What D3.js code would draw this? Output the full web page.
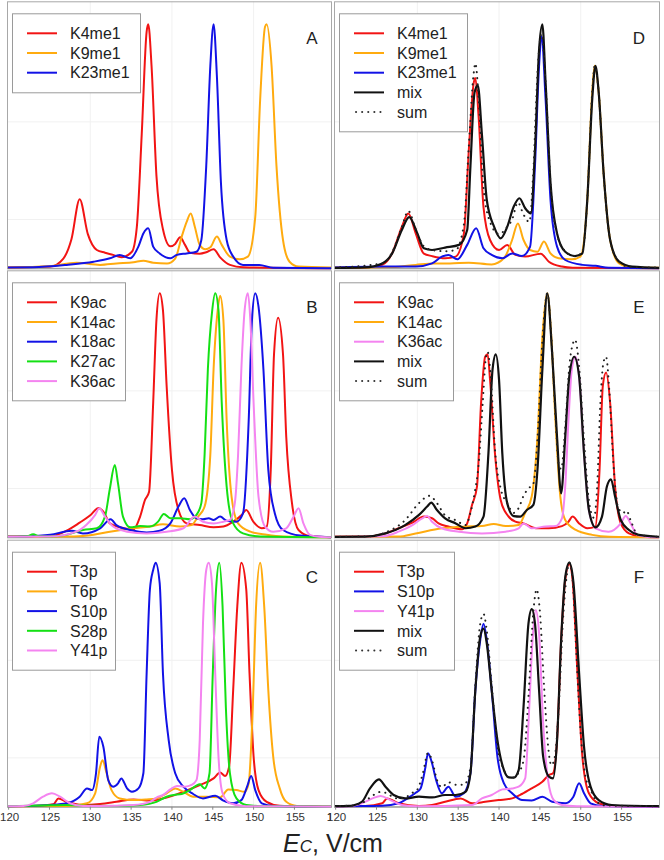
<!DOCTYPE html>
<html><head><meta charset="utf-8">
<script src="https://cdn.jsdelivr.net/npm/d3@7"></script>
<style>body{margin:0;background:#fff}svg{display:block}text{font-family:"Liberation Sans",Arial,sans-serif}</style>
</head><body><svg id="c" width="664" height="860"></svg>
<script>
// ---------- data (x = Ec in V/cm, y = normalized intensity) ----------
const xTicks = [120,125,130,135,140,145,150,155,160];
const axisTitle = ["E","C",", V/cm"];
const panelLetters = ["A","B","C","D","E","F"];

const A_K4me1 = [[119.8,0.003],[123,0.005],[125.1,0.007],[126.7,0.04],[127.7,0.12],[128.7,0.283],[129.7,0.14],[130.8,0.075],[131.8,0.064],[132.8,0.055],[133.8,0.045],[135.1,0.068],[135.7,0.17],[136.3,0.55],[136.9,0.97],[137.1,1.0],[137.5,0.83],[138.1,0.38],[138.9,0.16],[139.8,0.09],[140.4,0.1],[141.0,0.127],[141.6,0.096],[142.2,0.064],[143.4,0.06],[144.2,0.066],[145.1,0.078],[145.9,0.045],[147.1,0.014],[148.7,0.004],[159.6,0]];
const A_K9me1 = [[119.8,0.003],[125,0.008],[128.3,0.023],[131.2,0.014],[133.2,0.02],[135.3,0.025],[136.5,0.031],[137.7,0.023],[139.4,0.02],[140.4,0.04],[141.2,0.13],[141.8,0.19],[142.3,0.225],[142.8,0.17],[143.4,0.096],[144.1,0.078],[144.7,0.086],[145.5,0.13],[146.1,0.096],[147.1,0.048],[148.3,0.037],[149.3,0.048],[150.2,0.21],[150.8,0.69],[151.4,0.99],[151.6,1.0],[152.2,0.83],[152.8,0.42],[153.6,0.116],[154.4,0.027],[155.5,0.007],[159.6,0.003]];
const A_K23me1 = [[119.8,0.003],[123,0.004],[127.1,0.014],[130.4,0.027],[132.4,0.041],[133.6,0.055],[134.9,0.041],[135.9,0.09],[136.5,0.143],[137.1,0.164],[137.7,0.089],[138.5,0.061],[139.8,0.041],[140.6,0.055],[141.8,0.061],[143.0,0.068],[143.6,0.116],[144.2,0.42],[144.7,0.83],[145.1,1.0],[145.5,0.79],[146.0,0.35],[146.7,0.116],[147.5,0.048],[148.7,0.014],[150.7,0.014],[152.4,0.002],[159.6,0]];

const B_K9ac = [[119.8,0.003],[125.1,0.004],[127.1,0.027],[128.7,0.06],[130.0,0.09],[131.0,0.12],[131.6,0.105],[132.4,0.057],[133.6,0.041],[135.3,0.033],[136.1,0.085],[136.7,0.153],[137.2,0.187],[137.7,0.55],[138.1,0.89],[138.5,1.0],[138.9,0.93],[139.35,0.62],[140.0,0.276],[140.8,0.112],[141.8,0.057],[143.4,0.05],[145.1,0.041],[146.3,0.044],[147.5,0.064],[148.5,0.09],[149.1,0.112],[149.96,0.064],[150.98,0.037],[151.6,0.044],[152.1,0.276],[152.5,0.75],[153.0,0.9],[153.6,0.75],[154.0,0.41],[154.7,0.14],[155.5,0.03],[156.9,0.005],[159.6,0]];
const B_K14ac = [[119.8,0.002],[128,0.003],[130.4,0.01],[132.4,0.023],[135.3,0.037],[137.3,0.044],[138.9,0.053],[141.0,0.044],[142.4,0.05],[143.2,0.085],[144.0,0.126],[144.7,0.34],[145.1,0.69],[145.6,0.93],[145.9,0.99],[146.3,0.89],[146.7,0.48],[147.3,0.167],[148.1,0.057],[149.6,0.023],[151.6,0.01],[153.6,0.003],[159.6,0]];
const B_K18ac = [[119.8,0.002],[121.8,0.003],[125.1,0.01],[127.7,0.027],[129.1,0.016],[131.2,0.037],[132.5,0.074],[133.2,0.05],[134.9,0.03],[136.9,0.02],[138.5,0.027],[139.8,0.057],[140.8,0.126],[141.5,0.16],[142.2,0.112],[143.0,0.078],[143.8,0.074],[144.5,0.078],[145.1,0.071],[145.9,0.085],[146.7,0.068],[147.9,0.064],[148.7,0.098],[149.4,0.48],[149.8,0.89],[150.2,1.0],[150.6,0.945],[151.2,0.69],[151.8,0.276],[152.6,0.098],[153.6,0.03],[155.7,0.007],[159.6,0]];
const B_K27ac = [[119.8,0.002],[122.2,0.004],[123.0,0.012],[123.8,0.004],[125.1,0.003],[127.1,0.01],[129.1,0.03],[130.8,0.037],[131.8,0.085],[132.4,0.2],[133.0,0.296],[133.4,0.22],[134.0,0.085],[134.9,0.041],[136.1,0.046],[137.3,0.044],[138.3,0.064],[139.0,0.096],[139.8,0.078],[141.0,0.078],[142.2,0.074],[143.0,0.092],[143.6,0.14],[144.0,0.34],[144.4,0.69],[144.9,0.92],[145.3,1.0],[145.7,0.93],[146.1,0.55],[146.7,0.208],[147.5,0.057],[148.7,0.016],[150.8,0.003],[159.6,0]];
const B_K36ac = [[119.8,0.002],[125.1,0.003],[128.3,0.023],[129.5,0.05],[130.6,0.092],[131.1,0.119],[131.8,0.085],[132.8,0.044],[134.5,0.023],[136.9,0.016],[139.35,0.023],[141.4,0.037],[142.8,0.085],[143.8,0.064],[145.1,0.057],[146.3,0.064],[147.1,0.071],[147.7,0.14],[148.1,0.34],[148.5,0.69],[148.9,0.93],[149.3,1.0],[149.6,0.89],[150.0,0.55],[150.6,0.167],[151.4,0.044],[152.4,0.023],[154.0,0.037],[154.9,0.085],[155.5,0.119],[156.1,0.057],[156.9,0.01],[158,0.002],[159.6,0]];

const C_T3p = [[119.8,0.002],[123,0.003],[125.5,0.01],[126.1,0.034],[127.1,0.02],[129.1,0.007],[131.2,0.011],[133.2,0.02],[135.3,0.03],[137.3,0.025],[139.35,0.038],[141.4,0.061],[143.4,0.089],[145.1,0.116],[145.9,0.14],[146.5,0.126],[147.0,0.164],[147.5,0.48],[148.0,0.82],[148.5,1.0],[149.1,0.89],[149.5,0.546],[150.0,0.205],[150.6,0.068],[151.6,0.02],[153.2,0.004],[159.6,0]];
const C_T6p = [[119.8,0.002],[127.1,0.003],[129.6,0.014],[130.6,0.055],[131.2,0.164],[131.5,0.19],[132.0,0.137],[132.6,0.068],[133.6,0.034],[135.3,0.027],[136.9,0.03],[138.1,0.034],[139.35,0.055],[140.4,0.075],[141.4,0.061],[142.6,0.041],[144.2,0.041],[145.9,0.038],[146.9,0.071],[147.9,0.068],[148.9,0.061],[149.4,0.096],[149.9,0.41],[150.3,0.82],[150.8,1.0],[151.3,0.82],[151.8,0.478],[152.4,0.205],[153.2,0.075],[154.0,0.02],[155.3,0.003],[159.6,0]];
const C_S10p = [[119.8,0.002],[121.8,0.003],[125.1,0.007],[127.1,0.014],[128.7,0.041],[129.6,0.075],[130.2,0.068],[130.7,0.137],[131.1,0.287],[131.6,0.246],[132.2,0.109],[132.8,0.082],[133.4,0.096],[133.8,0.116],[134.5,0.075],[135.1,0.061],[135.9,0.075],[136.5,0.137],[136.9,0.546],[137.3,0.89],[137.7,0.97],[138.0,1.0],[138.5,0.915],[138.9,0.546],[139.6,0.273],[140.4,0.137],[141.4,0.082],[142.6,0.052],[143.8,0.034],[145.3,0.045],[146.3,0.025],[147.5,0.014],[148.5,0.027],[149.2,0.082],[149.7,0.126],[150.2,0.068],[151.0,0.014],[152.4,0.003],[159.6,0]];
const C_S28p = [[119.8,0.002],[124,0.005],[127,0.007],[130,0.004],[133.2,0.003],[136.1,0.007],[138.1,0.02],[139.35,0.041],[140.2,0.048],[141.2,0.052],[142.2,0.068],[143.4,0.092],[144.0,0.075],[144.6,0.137],[145.0,0.546],[145.4,0.89],[145.8,1.0],[146.2,0.82],[146.6,0.41],[147.1,0.137],[147.9,0.034],[149.1,0.007],[151,0.002],[159.6,0]];
const C_Y41p = [[119.8,0.002],[121.8,0.003],[123.0,0.014],[124.2,0.041],[125.3,0.055],[126.3,0.041],[127.5,0.014],[129.1,0.003],[131.2,0.003],[135.3,0.007],[137.3,0.02],[138.3,0.041],[138.9,0.048],[139.8,0.071],[140.6,0.085],[141.6,0.082],[142.4,0.089],[143.0,0.109],[143.4,0.273],[143.8,0.75],[144.2,0.97],[144.5,1.0],[144.9,0.915],[145.3,0.546],[145.7,0.205],[146.2,0.055],[147.1,0.014],[149,0.002],[159.6,0]];

const D_K4me1 = [[119.8,0.002],[123.6,0.003],[125.7,0.014],[126.9,0.06],[128.1,0.17],[128.9,0.225],[129.8,0.143],[130.8,0.06],[131.8,0.05],[133.4,0.041],[134.7,0.048],[135.7,0.143],[136.3,0.485],[136.9,0.76],[137.1,0.78],[137.5,0.62],[138.1,0.25],[138.9,0.116],[140.0,0.075],[141.0,0.096],[142.0,0.055],[143.2,0.048],[145.1,0.06],[146.1,0.027],[147.7,0.007],[149,0.002],[159.7,0]];
const D_K9me1 = [[119.8,0.002],[127,0.005],[129.8,0.014],[132,0.02],[134,0.02],[136.3,0.023],[139.1,0.016],[140.6,0.041],[141.6,0.116],[142.3,0.184],[143.0,0.116],[143.8,0.075],[144.7,0.068],[145.5,0.11],[146.3,0.061],[147.3,0.041],[148.9,0.037],[149.96,0.048],[150.8,0.28],[151.4,0.72],[151.7,0.83],[152.2,0.72],[152.8,0.39],[153.6,0.116],[154.7,0.02],[156.3,0.003],[159.7,0.002]];
const D_K23me1 = [[119.8,0.003],[126,0.007],[129.8,0.007],[131.8,0.02],[133.0,0.048],[133.8,0.055],[134.9,0.037],[136.1,0.096],[137.2,0.164],[138.1,0.082],[139.1,0.055],[140.4,0.041],[141.6,0.061],[142.8,0.05],[143.8,0.089],[144.4,0.42],[144.9,0.83],[145.2,0.95],[145.7,0.69],[146.3,0.28],[147.1,0.089],[148.1,0.034],[150.2,0.014],[151.8,0.01],[153.4,0.002],[159.7,0]];
const D_mix = [[119.8,0.002],[123.6,0.004],[125.7,0.02],[126.9,0.06],[128.1,0.157],[129.0,0.21],[130.0,0.143],[130.8,0.082],[131.8,0.075],[133.4,0.085],[135.1,0.096],[136.1,0.157],[136.5,0.42],[137.0,0.72],[137.4,0.75],[137.9,0.55],[138.5,0.28],[139.4,0.17],[140.2,0.123],[141.0,0.17],[141.8,0.253],[142.5,0.287],[143.2,0.246],[143.9,0.225],[144.4,0.485],[144.9,0.895],[145.3,1.0],[145.7,0.76],[146.3,0.35],[147.1,0.143],[148.1,0.068],[149.3,0.05],[150.2,0.061],[150.8,0.28],[151.4,0.69],[151.8,0.83],[152.2,0.72],[152.8,0.39],[153.6,0.116],[154.7,0.027],[156.3,0.007],[159.7,0.002]];
const D_sum = [[119.8,0.003],[125.7,0.02],[126.9,0.065],[128.1,0.17],[128.9,0.235],[129.8,0.16],[130.8,0.09],[131.8,0.075],[133.4,0.07],[134.7,0.075],[135.7,0.18],[136.3,0.5],[136.9,0.8],[137.1,0.84],[137.5,0.7],[138.1,0.33],[138.9,0.19],[140.0,0.14],[141.0,0.17],[141.6,0.2],[142.3,0.27],[143.0,0.22],[143.7,0.19],[144.2,0.4],[144.7,0.8],[145.2,0.96],[145.7,0.76],[146.3,0.35],[147.1,0.14],[148.1,0.07],[149.3,0.05],[150.2,0.065],[150.8,0.28],[151.4,0.72],[151.7,0.83],[152.2,0.72],[152.8,0.39],[153.6,0.116],[154.7,0.027],[156,0.005],[159.7,0.003]];

const E_K9ac = [[119.8,0.002],[123.6,0.003],[126.1,0.016],[127.7,0.037],[129.4,0.06],[130.8,0.085],[131.8,0.078],[132.6,0.057],[133.8,0.044],[135.5,0.033],[136.1,0.057],[136.7,0.133],[137.3,0.208],[137.8,0.55],[138.3,0.74],[138.6,0.75],[138.9,0.645],[139.5,0.344],[140.2,0.153],[141.0,0.092],[142.0,0.064],[143.0,0.057],[144.5,0.037],[146.1,0.037],[147.7,0.046],[148.5,0.064],[149.0,0.085],[149.8,0.057],[150.8,0.037],[151.8,0.044],[152.3,0.276],[152.7,0.62],[153.1,0.675],[153.6,0.55],[154.2,0.208],[154.9,0.057],[155.9,0.016],[157.5,0.002],[159.7,0]];
const E_K14ac = [[119.8,0.002],[127.7,0.003],[129.8,0.016],[133.0,0.037],[135.9,0.044],[137.9,0.046],[139.35,0.055],[140.8,0.046],[142.4,0.05],[143.2,0.1],[144.0,0.167],[144.7,0.41],[145.3,0.82],[145.9,1.0],[146.4,0.82],[146.9,0.48],[147.5,0.167],[148.1,0.071],[149.4,0.03],[151.4,0.01],[153.5,0.002],[159.7,0]];
const E_K36ac = [[119.8,0.002],[125.7,0.004],[127.7,0.023],[129.4,0.05],[130.6,0.078],[131.2,0.087],[131.8,0.064],[133.0,0.037],[135.1,0.023],[137.9,0.016],[140.8,0.023],[142.4,0.037],[143.0,0.057],[144.0,0.037],[145.7,0.044],[146.9,0.046],[147.7,0.078],[148.1,0.208],[148.5,0.48],[148.9,0.686],[149.35,0.74],[149.8,0.66],[150.4,0.344],[151.0,0.112],[151.8,0.037],[153.4,0.023],[154.9,0.057],[155.5,0.087],[156.1,0.057],[156.9,0.01],[158,0.002],[159.7,0]];
const E_mix = [[119.8,0.002],[123.6,0.003],[126.1,0.016],[128.5,0.05],[130.2,0.092],[131.2,0.126],[131.7,0.142],[132.4,0.112],[133.4,0.078],[134.7,0.057],[135.9,0.037],[137.1,0.044],[138.1,0.085],[138.7,0.344],[139.2,0.686],[139.6,0.75],[140.0,0.645],[140.4,0.344],[141.0,0.14],[141.8,0.087],[142.6,0.085],[143.4,0.112],[144.2,0.133],[144.7,0.276],[145.3,0.686],[145.9,1.0],[146.5,0.754],[147.1,0.41],[147.6,0.18],[148.1,0.41],[148.6,0.66],[149.2,0.74],[149.8,0.66],[150.4,0.344],[151.0,0.112],[151.8,0.041],[152.6,0.085],[153.2,0.208],[153.7,0.238],[154.2,0.167],[154.9,0.071],[155.9,0.03],[157.1,0.01],[159.7,0.002]];
const E_sum = [[119.8,0.002],[124,0.004],[126.1,0.02],[128.5,0.07],[130.2,0.14],[131.5,0.17],[132.4,0.14],[133.4,0.09],[134.7,0.07],[135.9,0.05],[136.5,0.1],[137.0,0.18],[137.5,0.3],[138.0,0.55],[138.4,0.74],[138.6,0.76],[139.0,0.65],[139.5,0.36],[140.2,0.2],[141.0,0.14],[141.8,0.1],[142.4,0.12],[143.0,0.17],[143.6,0.2],[144.2,0.22],[144.7,0.4],[145.3,0.8],[145.9,1.0],[146.4,0.82],[146.9,0.5],[147.3,0.3],[147.6,0.28],[148.1,0.45],[148.6,0.7],[149.1,0.8],[149.3,0.81],[149.8,0.7],[150.4,0.4],[151.0,0.15],[151.6,0.08],[152.0,0.2],[152.4,0.55],[152.8,0.72],[153.1,0.74],[153.5,0.6],[154.0,0.3],[154.6,0.12],[155.2,0.1],[155.6,0.11],[156.1,0.07],[157,0.01],[159.7,0.002]];

const F_T3p = [[119.8,0.002],[123.6,0.003],[125.7,0.014],[126.3,0.034],[127.7,0.014],[130.2,0.003],[131.8,0.007],[133.4,0.02],[135.3,0.034],[136.7,0.014],[138.3,0.02],[139.96,0.027],[141.6,0.034],[142.8,0.052],[144.0,0.075],[145.3,0.102],[146.1,0.13],[146.6,0.137],[147.1,0.273],[147.6,0.68],[148.1,0.93],[148.6,0.995],[149.0,0.93],[149.6,0.546],[150.2,0.205],[151.0,0.055],[152.2,0.014],[153.8,0.003],[159.7,0]];
const F_S10p = [[119.8,0.002],[123.6,0.003],[125.7,0.004],[127.7,0.014],[129.1,0.041],[129.8,0.057],[130.4,0.075],[131.0,0.164],[131.3,0.219],[131.7,0.19],[132.3,0.109],[133.0,0.055],[133.8,0.082],[134.7,0.041],[135.7,0.055],[136.5,0.137],[137.1,0.478],[137.7,0.683],[138.1,0.75],[138.5,0.683],[139.1,0.478],[139.8,0.205],[140.6,0.096],[141.6,0.055],[142.8,0.027],[144.0,0.025],[145.3,0.041],[146.5,0.02],[148.1,0.014],[149.1,0.041],[149.8,0.096],[150.4,0.055],[151.2,0.014],[152.6,0.003],[159.7,0]];
const F_Y41p = [[119.8,0.002],[121.8,0.003],[123.2,0.014],[124.5,0.034],[125.5,0.044],[126.7,0.027],[128.1,0.007],[130,0.002],[136.7,0.007],[137.9,0.034],[139.1,0.048],[140.4,0.071],[141.6,0.075],[142.4,0.082],[143.2,0.116],[143.7,0.41],[144.1,0.683],[144.5,0.806],[144.9,0.71],[145.4,0.342],[146.0,0.109],[146.7,0.027],[147.7,0.007],[149.5,0.002],[159.7,0]];
const F_mix = [[119.8,0.002],[121.6,0.003],[123.2,0.02],[124.2,0.075],[125.3,0.112],[126.1,0.082],[127.1,0.048],[128.5,0.034],[130.2,0.041],[131.8,0.038],[133.4,0.048],[134.7,0.048],[135.9,0.061],[136.5,0.137],[137.1,0.478],[137.7,0.697],[138.1,0.73],[138.5,0.669],[139.1,0.478],[139.8,0.273],[140.6,0.15],[141.2,0.12],[141.8,0.119],[142.4,0.15],[143.0,0.41],[143.6,0.75],[144.0,0.81],[144.4,0.75],[144.9,0.478],[145.4,0.205],[146.1,0.123],[146.6,0.116],[147.1,0.273],[147.6,0.683],[148.1,0.94],[148.6,1.0],[149.1,0.92],[149.8,0.546],[150.4,0.246],[151.2,0.082],[152.2,0.027],[153.8,0.007],[159.7,0.002]];
const F_sum = [[119.8,0.002],[122,0.005],[123.5,0.02],[124.5,0.045],[125.4,0.06],[126.3,0.055],[127.3,0.035],[128.3,0.035],[129.3,0.055],[130.0,0.07],[130.7,0.14],[131.3,0.22],[131.8,0.19],[132.4,0.11],[133.0,0.08],[133.8,0.1],[134.7,0.09],[135.7,0.09],[136.5,0.16],[137.1,0.5],[137.7,0.75],[138.1,0.79],[138.5,0.72],[139.1,0.5],[139.8,0.25],[140.6,0.15],[141.2,0.12],[141.8,0.12],[142.4,0.14],[143.0,0.19],[143.6,0.45],[144.2,0.8],[144.6,0.89],[145.0,0.8],[145.5,0.5],[146.0,0.25],[146.4,0.17],[146.8,0.2],[147.3,0.4],[147.8,0.75],[148.3,0.95],[148.6,1.0],[149.0,0.93],[149.5,0.6],[150.0,0.3],[150.6,0.12],[151.2,0.07],[152,0.02],[153,0.005],[159.7,0.002]];

// ---------- styles ----------
const RED="#f21414", ORANGE="#ffab0f", BLUE="#1212e6", GREEN="#14e014", PINK="#f484f0", BLACK="#111";

const panels = [
  {letter:panelLetters[0], col:0,row:0, legendW:128, series:[
    {name:"K4me1",color:RED,data:A_K4me1},{name:"K9me1",color:ORANGE,data:A_K9me1},{name:"K23me1",color:BLUE,data:A_K23me1}]},
  {letter:panelLetters[1], col:0,row:1, legendW:113, series:[
    {name:"K9ac",color:RED,data:B_K9ac},{name:"K14ac",color:ORANGE,data:B_K14ac},{name:"K18ac",color:BLUE,data:B_K18ac},{name:"K27ac",color:GREEN,data:B_K27ac},{name:"K36ac",color:PINK,data:B_K36ac}]},
  {letter:panelLetters[2], col:0,row:2, legendW:103, series:[
    {name:"T3p",color:RED,data:C_T3p},{name:"T6p",color:ORANGE,data:C_T6p},{name:"S10p",color:BLUE,data:C_S10p},{name:"S28p",color:GREEN,data:C_S28p},{name:"Y41p",color:PINK,data:C_Y41p}]},
  {letter:panelLetters[3], col:1,row:0, legendW:128, series:[
    {name:"K4me1",color:RED,data:D_K4me1},{name:"K9me1",color:ORANGE,data:D_K9me1},{name:"K23me1",color:BLUE,data:D_K23me1},{name:"mix",color:BLACK,data:D_mix},{name:"sum",color:BLACK,data:D_sum,dotted:true}]},
  {letter:panelLetters[4], col:1,row:1, legendW:114, series:[
    {name:"K9ac",color:RED,data:E_K9ac},{name:"K14ac",color:ORANGE,data:E_K14ac},{name:"K36ac",color:PINK,data:E_K36ac},{name:"mix",color:BLACK,data:E_mix},{name:"sum",color:BLACK,data:E_sum,dotted:true}]},
  {letter:panelLetters[5], col:1,row:2, legendW:115, series:[
    {name:"T3p",color:RED,data:F_T3p},{name:"S10p",color:BLUE,data:F_S10p},{name:"Y41p",color:PINK,data:F_Y41p},{name:"mix",color:BLACK,data:F_mix},{name:"sum",color:BLACK,data:F_sum,dotted:true}]}
];

const svg = d3.select("#c");
const colX = [{l:7,r:332,d:[119.8,159.6]},{l:334,r:660,d:[119.8,159.7]}];
const rowBase = [268.3,537.3,806.7];
const PANEL_H = 267, PEAK_H = 244;

svg.append("defs").append("clipPath").attr("id","leftclip")
  .append("rect").attr("x",0).attr("y",0).attr("width",331).attr("height",860);

panels.forEach((p,i)=>{
  const c = colX[p.col], base = rowBase[p.row], top = base-PANEL_H;
  const x = d3.scaleLinear().domain(c.d).range([c.l,c.r]);
  const y = d3.scaleLinear().domain([0,1]).range([base, base-PEAK_H]);
  const g = svg.append("g");
  // faint grid
  const grid = g.append("g").attr("stroke","#f1f1f1").attr("stroke-width",1);
  [130,140,150].forEach(v=>grid.append("line").attr("x1",x(v)).attr("x2",x(v)).attr("y1",top).attr("y2",base));
  [0.2,0.6].forEach(v=>grid.append("line").attr("x1",c.l).attr("x2",c.r).attr("y1",y(v)).attr("y2",y(v)));
  // frame
  g.append("rect").attr("x",c.l+0.5).attr("y",top+0.5).attr("width",c.r-c.l-1).attr("height",base-top-0.5)
    .attr("fill","none").attr("stroke","#a8a8a8").attr("stroke-width",1);
  g.append("line").attr("x1",c.l).attr("x2",c.r).attr("y1",base+0.5).attr("y2",base+0.5).attr("stroke","#999");
  // clip for curves
  const cid = "clip"+i;
  svg.select("defs").append("clipPath").attr("id",cid).append("rect")
    .attr("x",c.l+1).attr("y",top+1).attr("width",c.r-c.l-2).attr("height",base-top+1);
  const line = d3.line().x(d=>x(d[0])).y(d=>y(d[1])).curve(d3.curveMonotoneX);
  const cg = g.append("g").attr("clip-path",`url(#${cid})`);
  p.series.forEach(s=>{
    const path = cg.append("path").attr("d",line(s.data)).attr("fill","none").attr("stroke",s.color)
      .attr("stroke-linejoin","round");
    if(s.dotted){ path.attr("stroke-width",2).attr("stroke-dasharray","0.1,6").attr("stroke-linecap","round").attr("stroke","#222"); }
    else path.attr("stroke-width", s.color===BLACK?2.2:2);
  });
  // legend
  const lx = c.l+5, ly = top+12, n = p.series.length;
  const lg = g.append("g");
  lg.append("rect").attr("x",lx+0.5).attr("y",ly+0.5).attr("width",p.legendW).attr("height",n===3?79:118)
    .attr("fill","#fff").attr("stroke","#9a9a9a").attr("stroke-width",1);
  p.series.forEach((s,k)=>{
    const yy = ly+20+k*19.7;
    const ln = lg.append("line").attr("x1",lx+15).attr("x2",lx+45).attr("y1",yy).attr("y2",yy).attr("stroke",s.color);
    if(s.dotted) ln.attr("stroke-width",2).attr("stroke-dasharray","0.1,6").attr("stroke-linecap","round").attr("stroke","#333").attr("x1",lx+17);
    else ln.attr("stroke-width",2);
    lg.append("text").attr("x",lx+58).attr("y",yy).attr("dy","0.36em").attr("font-size",16).attr("fill","#222").text(s.name);
  });
  g.append("text").attr("x",c.l+305).attr("y",top+37).attr("dy","0.36em").attr("text-anchor","middle")
    .attr("font-size",17).attr("fill","#222").text(p.letter);
  // ticks on bottom row
  if(p.row===2){
    const tg = g.append("g");
    if(p.col===0) tg.attr("clip-path","url(#leftclip)");
    xTicks.forEach(v=>{
      if(v>c.d[1]+0.01 && p.col===1) return;
      tg.append("line").attr("x1",x(v)).attr("x2",x(v)).attr("y1",base).attr("y2",base+3).attr("stroke","#888");
      tg.append("text").attr("x",x(v)+1).attr("y",base+14).attr("text-anchor","middle").attr("font-size",11.5)
        .attr("fill","#333").text(v);
    });
  }
});

// axis title
const t = svg.append("text").attr("x",333).attr("y",852).attr("text-anchor","middle").attr("fill","#222");
t.append("tspan").attr("font-size",25).attr("font-style","italic").text(axisTitle[0]);
t.append("tspan").attr("font-size",17).attr("font-style","italic").text(axisTitle[1]);
t.append("tspan").attr("font-size",25).text(axisTitle[2]);
</script></body></html>
